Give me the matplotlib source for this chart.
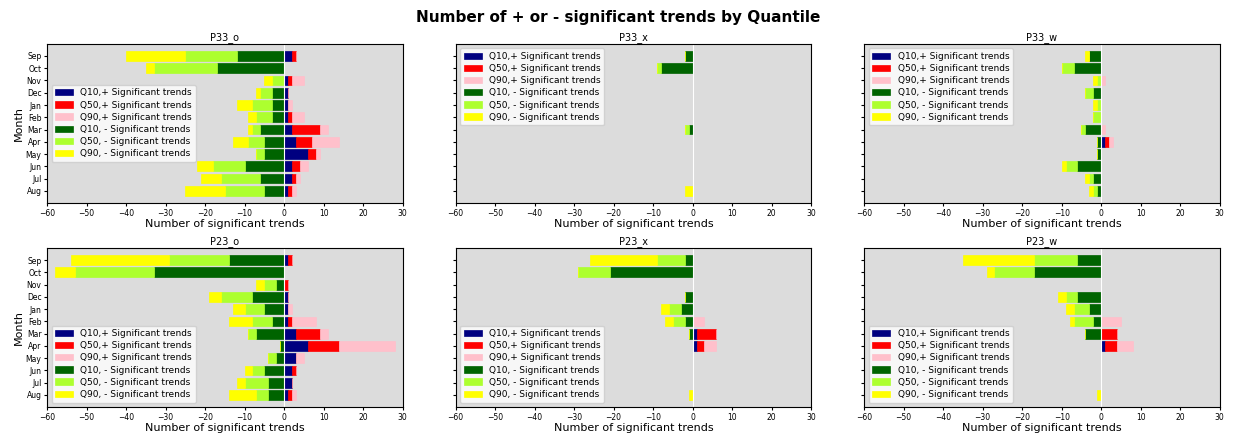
import matplotlib
matplotlib.use("Agg")
import matplotlib.pyplot as plt
import numpy as np

months = ['Sep', 'Oct', 'Nov', 'Dec', 'Jan', 'Feb', 'Mar', 'Apr', 'May', 'Jun', 'Jul', 'Aug']
quantiles = ['Q10', 'Q50', 'Q90']

# counts per month (Sep..Aug): positive trends then negative trends, per quantile
p33o_pos = [[2, 0, 1, 1, 1, 1, 2, 3, 6, 2, 2, 1],
            [1, 0, 1, 0, 0, 1, 7, 4, 2, 2, 1, 1],
            [0, 0, 3, 0, 1, 3, 2, 7, 1, 2, 1, 1]]
p33o_neg = [[12, 17, 0, 3, 3, 3, 6, 5, 5, 10, 6, 5],
            [13, 16, 3, 3, 5, 4, 2, 4, 2, 8, 10, 10],
            [15, 2, 2, 1, 4, 2, 1, 4, 0, 4, 5, 10]]

p33x_pos = [[0, 0, 0, 0, 0, 0, 0, 0, 0, 0, 0, 0],
            [0, 0, 0, 0, 0, 0, 0, 0, 0, 0, 0, 0],
            [0, 0, 0, 0, 0, 0, 0, 0, 0, 0, 0, 0]]
p33x_neg = [[2, 8, 0, 0, 0, 0, 1, 0, 0, 0, 0, 0],
            [0, 1, 0, 0, 0, 0, 1, 0, 0, 0, 0, 0],
            [0, 0, 0, 0, 0, 0, 0, 0, 0, 0, 0, 2]]

p33w_pos = [[0, 0, 0, 0, 0, 0, 0, 1, 0, 0, 0, 0],
            [0, 0, 0, 0, 0, 0, 0, 1, 0, 0, 0, 0],
            [0, 0, 1, 0, 0, 0, 1, 1, 0, 0, 0, 0]]
p33w_neg = [[3, 7, 0, 2, 0, 0, 4, 1, 1, 6, 2, 1],
            [0, 3, 1, 2, 1, 2, 1, 0, 0, 3, 1, 1],
            [1, 0, 1, 0, 1, 0, 0, 0, 0, 1, 1, 1]]

p23o_pos = [[1, 0, 0, 1, 1, 1, 3, 6, 3, 2, 2, 1],
            [1, 0, 1, 0, 0, 1, 6, 8, 0, 1, 0, 1],
            [0, 0, 0, 0, 1, 6, 2, 14, 2, 0, 0, 1]]
p23o_neg = [[14, 33, 2, 8, 5, 3, 7, 1, 2, 5, 4, 4],
            [15, 20, 3, 8, 5, 5, 2, 0, 2, 3, 6, 3],
            [25, 5, 2, 3, 3, 6, 0, 0, 0, 2, 2, 7]]

p23x_pos = [[0, 0, 0, 0, 0, 0, 1, 1, 0, 0, 0, 0],
            [0, 0, 0, 0, 0, 0, 5, 2, 0, 0, 0, 0],
            [0, 0, 0, 0, 0, 3, 0, 3, 0, 0, 0, 0]]
p23x_neg = [[2, 21, 0, 2, 3, 2, 1, 0, 0, 0, 0, 0],
            [7, 8, 0, 0, 3, 3, 0, 0, 0, 0, 0, 0],
            [17, 0, 0, 0, 2, 2, 0, 0, 0, 0, 0, 1]]

p23w_pos = [[0, 0, 0, 0, 0, 0, 0, 1, 0, 0, 0, 0],
            [0, 0, 0, 0, 0, 0, 4, 3, 0, 0, 0, 0],
            [0, 0, 0, 0, 0, 5, 0, 4, 0, 0, 0, 0]]
p23w_neg = [[6, 17, 0, 6, 3, 2, 4, 0, 0, 0, 0, 0],
            [11, 10, 0, 3, 4, 5, 0, 0, 0, 0, 0, 0],
            [18, 2, 0, 2, 2, 1, 0, 0, 0, 0, 0, 1]]

panels = [('P33_o', p33o_pos, p33o_neg, 'center left'),
          ('P33_x', p33x_pos, p33x_neg, 'upper left'),
          ('P33_w', p33w_pos, p33w_neg, 'upper left'),
          ('P23_o', p23o_pos, p23o_neg, 'lower left'),
          ('P23_x', p23x_pos, p23x_neg, 'lower left'),
          ('P23_w', p23w_pos, p23w_neg, 'lower left')]

pos_colors = ['navy', 'red', 'pink']
neg_colors = ['darkgreen', 'greenyellow', 'yellow']

fig, axes = plt.subplots(2, 3, figsize=(12.37, 4.34), dpi=100, sharey=True)
fig.subplots_adjust(left=0.038, right=0.986, top=0.899, bottom=0.062,
                    wspace=0.149, hspace=0.283)

y = np.arange(len(months))

for ax, (title, pos, neg, loc) in zip(axes.flat, panels):
    ax.set_facecolor('gainsboro')
    left = np.zeros(len(months))
    for q, vals, c in zip(quantiles, pos, pos_colors):
        vals = np.array(vals, dtype=float)
        ax.barh(y, vals, left=left, color=c, edgecolor=c, linewidth=0.5,
                label=f'{q},+ Significant trends')
        left += vals
    left = np.zeros(len(months))
    for q, vals, c in zip(quantiles, neg, neg_colors):
        vals = np.array(vals, dtype=float)
        ax.barh(y, -vals, left=left, color=c, edgecolor=c, linewidth=0.5,
                label=f'{q}, - Significant trends')
        left -= vals
    ax.axvline(0, color='white', lw=0.8)
    ax.set_xlim(-60, 30)
    ax.set_xticks(np.arange(-60, 31, 10))
    ax.tick_params(labelsize=5.5, length=2.5, pad=1.5)
    ax.set_title(title, fontsize=7, pad=3)
    ax.set_xlabel('Number of significant trends', fontsize=8, labelpad=1)
    ax.legend(loc=loc, fontsize=6.5, framealpha=0.8, handlelength=2.0,
              labelspacing=0.35, borderpad=0.4)

# shared y axis: months from top (Sep) to bottom (Aug)
axes[0, 0].set_yticks(y)
axes[0, 0].set_yticklabels(months)
axes[0, 0].invert_yaxis()

for ax in axes[:, 0]:
    ax.set_ylabel('Month', fontsize=8, labelpad=1)

fig.suptitle('Number of + or - significant trends by Quantile', fontsize=11,
             fontweight='bold', y=0.978)

fig.savefig('out.png', dpi=100)
